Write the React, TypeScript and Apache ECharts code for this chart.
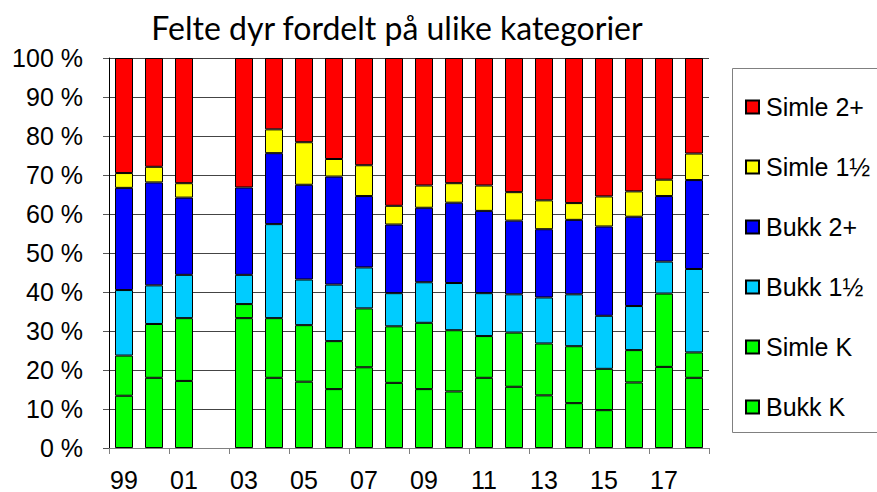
import React, { useEffect, useRef } from "react";
import * as echarts from "echarts";

const categories = ["99", "00", "01", "02", "03", "04", "05", "06", "07", "08", "09", "10", "11", "12", "13", "14", "15", "16", "17", "18"];
const bukkK = [13.4, 18.0, 17.2, null, 33.3, 18.0, 17.0, 15.1, 20.7, 16.7, 15.1, 14.5, 18.0, 15.7, 13.5, 11.5, 9.7, 16.8, 20.8, 18.0];
const simleK = [10.3, 13.8, 16.1, null, 3.6, 15.3, 14.5, 12.3, 15.1, 14.5, 17.0, 15.7, 10.7, 13.9, 13.3, 14.6, 10.6, 8.3, 18.8, 6.5];
const bukk15 = [16.8, 9.9, 11.1, null, 7.5, 24.1, 11.7, 14.5, 10.5, 8.5, 10.4, 12.1, 11.0, 9.8, 11.8, 13.3, 13.6, 11.3, 8.2, 21.4];
const bukk2 = [26.2, 26.4, 19.8, null, 22.4, 18.2, 24.3, 27.7, 18.3, 17.6, 19.1, 20.6, 21.1, 18.9, 17.5, 19.1, 22.9, 22.9, 16.8, 22.8];
const simle15 = [3.8, 4.0, 3.7, null, null, 6.1, 10.9, 4.5, 7.9, 4.8, 5.7, 5.0, 6.5, 7.3, 7.4, 4.3, 7.7, 6.5, 4.2, 6.8];
const simle2 = [29.5, 27.9, 32.1, null, 33.2, 18.3, 21.6, 25.9, 27.5, 37.9, 32.7, 32.1, 32.7, 34.4, 36.5, 37.2, 35.5, 34.2, 31.2, 24.5];

const seriesNames = ["Bukk K", "Simle K", "Bukk 1½", "Bukk 2+", "Simle 1½", "Simle 2+"];
const seriesData = [bukkK, simleK, bukk15, bukk2, simle15, simle2];
const seriesColors = ["#00FF00", "#00FF00", "#00CCFF", "#0000FF", "#FFFF00", "#FF0000"];
const titleText = "Felte dyr fordelt på ulike kategorier";

export default function App() {
  const ref = useRef<HTMLDivElement>(null);
  useEffect(() => {
    document.body.style.margin = "0";
    if (!ref.current) return;
    const chart = echarts.init(ref.current, null, { renderer: "svg" });
    const font = "Liberation Sans";
    chart.setOption({
      animation: false,
      backgroundColor: "#ffffff",
      grid: { left: 109, right: 168, top: 58, bottom: 44, containLabel: false },
      graphic: [
        {
          type: "text",
          x: 397,
          y: 27,
          style: {
            text: titleText,
            fontFamily: "Lato",
            fontSize: 32,
            fill: "#000",
            textAlign: "center",
            textVerticalAlign: "middle",
          },
        },
        {
          type: "rect",
          shape: { x: 732.5, y: 68.5, width: 160, height: 364 },
          style: { fill: "none", stroke: "#808080", lineWidth: 1 },
          z: 0,
        },
      ],
      legend: {
        orient: "vertical",
        left: 740,
        top: 89,
        itemWidth: 13,
        itemHeight: 13,
        itemGap: 34,
        icon: "rect",
        data: seriesNames.slice().reverse(),
        textStyle: { fontFamily: font, fontSize: 25, color: "#000", lineHeight: 26, padding: [0, 0, 0, 2] },
      },
      xAxis: {
        type: "category",
        data: categories,
        axisLine: { lineStyle: { color: "#808080", width: 1 } },
        axisTick: { show: true, length: 6, lineStyle: { color: "#808080" } },
        axisLabel: { interval: 1, fontFamily: font, fontSize: 25, color: "#000", margin: 19 },
      },
      yAxis: {
        type: "value",
        min: 0,
        max: 100,
        interval: 10,
        axisLine: { show: true, lineStyle: { color: "#000", width: 1 } },
        axisTick: { show: true, length: 6, lineStyle: { color: "#555" } },
        axisLabel: { formatter: "{value} %", fontFamily: font, fontSize: 25, color: "#000", margin: 26 },
        splitLine: { show: true, lineStyle: { color: "#444", width: 1 } },
      },
      series: seriesNames.map((name, i) => ({
        name,
        type: "bar",
        stack: "total",
        barWidth: 18,
        data: seriesData[i],
        itemStyle: { color: seriesColors[i], borderColor: "#000", borderWidth: 1 },
      })),
    });
    return () => chart.dispose();
  }, []);
  return <div ref={ref} style={{ width: 877, height: 492 }} />;
}
